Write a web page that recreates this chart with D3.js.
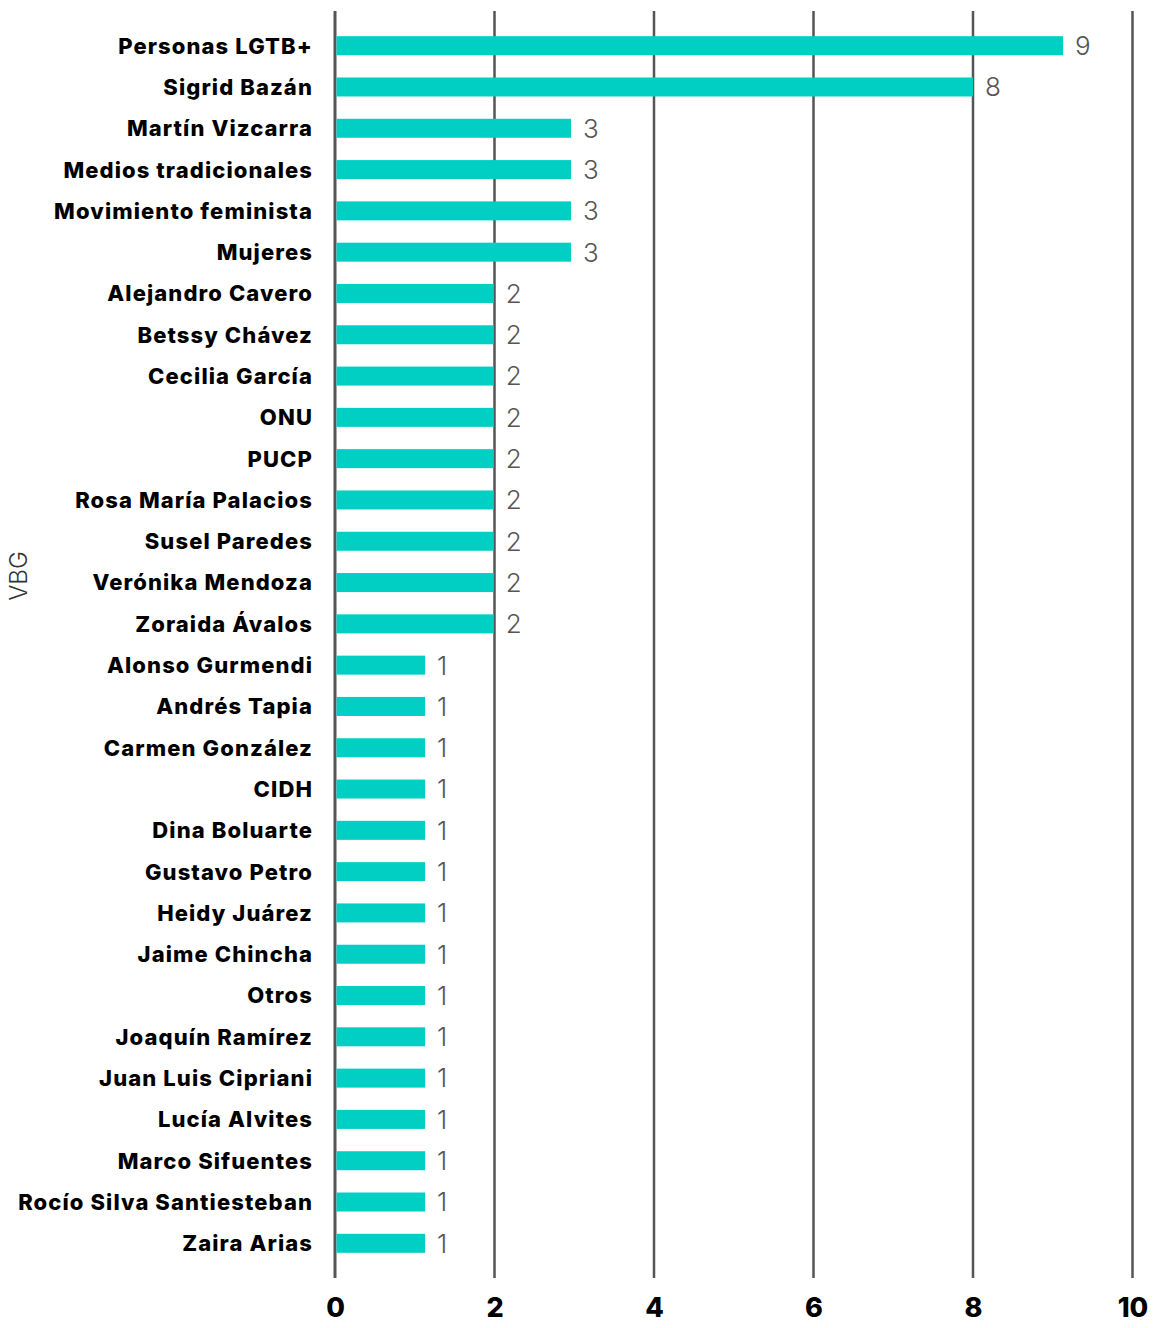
<!DOCTYPE html>
<html>
<head>
<meta charset="utf-8">
<script src="https://cdn.jsdelivr.net/npm/d3@7"></script>
<style>
  html, body { margin: 0; padding: 0; background: #fff; }
  svg { display: block; }
</style>
</head>
<body>
<svg width="1154" height="1328"></svg>
<script>
// categories, top to bottom
const categories = [
  "Personas LGTB+", "Sigrid Bazán", "Martín Vizcarra", "Medios tradicionales",
  "Movimiento feminista", "Mujeres", "Alejandro Cavero", "Betssy Chávez",
  "Cecilia García", "ONU", "PUCP", "Rosa María Palacios", "Susel Paredes",
  "Verónika Mendoza", "Zoraida Ávalos", "Alonso Gurmendi", "Andrés Tapia",
  "Carmen González", "CIDH", "Dina Boluarte", "Gustavo Petro", "Heidy Juárez",
  "Jaime Chincha", "Otros", "Joaquín Ramírez", "Juan Luis Cipriani",
  "Lucía Alvites", "Marco Sifuentes", "Rocío Silva Santiesteban", "Zaira Arias"
];

// bar lengths (labels show them rounded)
const values = [
  9.13, 8.0, 2.96, 2.96, 2.96, 2.96,
  1.99, 1.99, 1.99, 1.99, 1.99, 1.99, 1.99, 1.99, 1.99,
  1.13, 1.13, 1.13, 1.13, 1.13, 1.13, 1.13, 1.13, 1.13, 1.13,
  1.13, 1.13, 1.13, 1.13, 1.13
];

const xTicks = [0, 2, 4, 6, 8, 10];
const axisTitle = "VBG";

const data = categories.map((c, i) => ({ name: c, value: values[i] }));

const svg = d3.select("svg");

const x = d3.scaleLinear().domain([0, 10]).range([335, 1132.5]);
const y = d3.scaleBand()
  .domain(categories)
  .range([11, 1278])
  .paddingInner(0.54)
  .paddingOuter(0.61);

// vertical grid lines
svg.selectAll(".grid")
  .data(xTicks)
  .enter().append("line")
  .attr("class", "grid")
  .attr("x1", d => x(d))
  .attr("x2", d => x(d))
  .attr("y1", 11)
  .attr("y2", 1278)
  .attr("stroke", "#555")
  .attr("stroke-width", d => d === 0 ? 3 : 2.5);

// bars
svg.selectAll(".bar")
  .data(data)
  .enter().append("rect")
  .attr("class", "bar")
  .attr("x", x(0) + 1.5)
  .attr("y", d => y(d.name))
  .attr("width", d => x(d.value) - x(0) - 1.5)
  .attr("height", y.bandwidth())
  .attr("fill", "#02cfc3");

// value labels
svg.selectAll(".val")
  .data(data)
  .enter().append("text")
  .attr("class", "val")
  .attr("x", d => x(d.value) + 12)
  .attr("y", d => y(d.name) + y.bandwidth() / 2)
  .attr("dy", "0.36em")
  .attr("font-family", "Inter, 'Open Sans', sans-serif")
  .attr("font-weight", 300)
  .attr("font-size", 26)
  .attr("fill", "#555")
  .text(d => d3.format(".0f")(d.value));

// category labels
svg.selectAll(".cat")
  .data(data)
  .enter().append("text")
  .attr("class", "cat")
  .attr("x", 313)
  .attr("y", d => y(d.name) + y.bandwidth() / 2)
  .attr("dy", "0.36em")
  .attr("text-anchor", "end")
  .attr("font-family", "Inter, 'Open Sans', sans-serif")
  .attr("font-weight", 800)
  .attr("font-size", 22)
  .attr("letter-spacing", "1.1px")
  .attr("fill", "#000")
  .text(d => d.name);

// x axis tick labels
const xAxis = d3.axisBottom(x).tickValues(xTicks).tickSize(0).tickPadding(0);
const gx = svg.append("g")
  .attr("transform", "translate(0,1298)")
  .call(xAxis);
gx.select(".domain").remove();
gx.selectAll("text")
  .attr("dy", "0.71em")
  .attr("font-family", "Inter, 'Open Sans', sans-serif")
  .attr("font-weight", 800)
  .attr("font-size", 27)
  .attr("fill", "#000");

// axis title
svg.append("text")
  .attr("transform", "translate(27,576) rotate(-90)")
  .attr("text-anchor", "middle")
  .attr("font-family", "Inter, 'Open Sans', sans-serif")
  .attr("font-weight", 300)
  .attr("font-size", 24)
  .attr("fill", "#333")
  .text(axisTitle);
</script>
</body>
</html>
